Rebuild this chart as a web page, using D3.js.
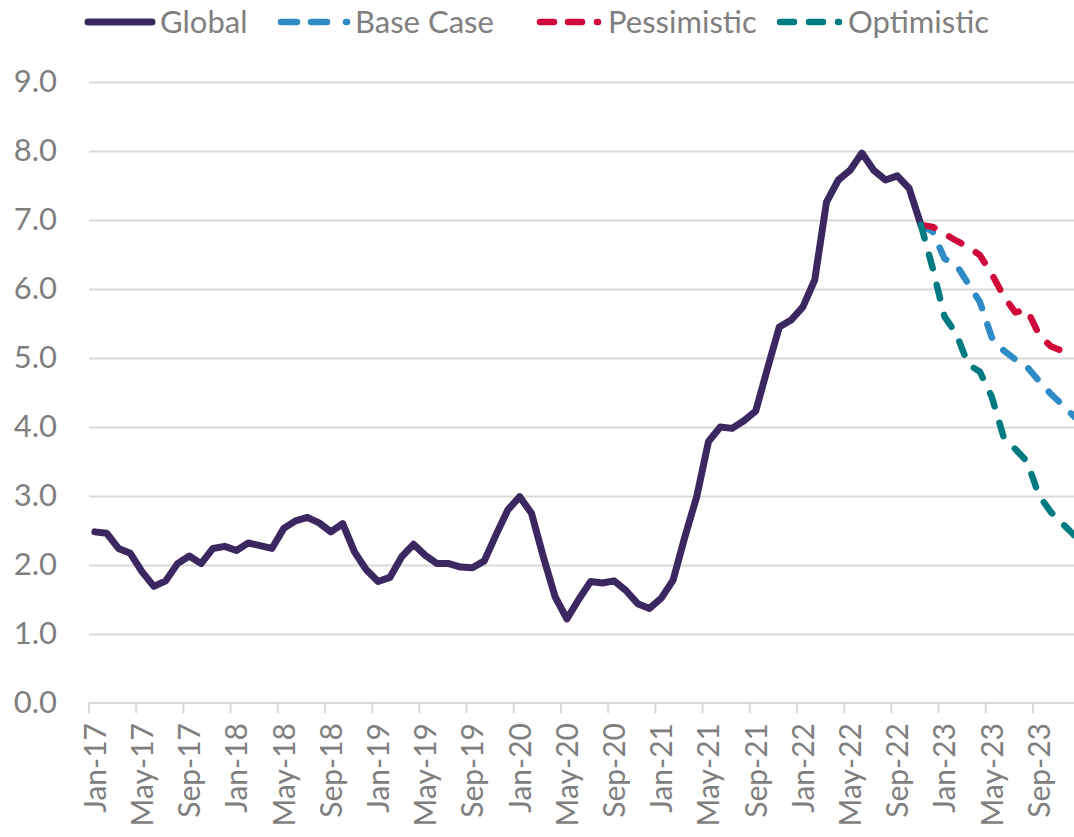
<!DOCTYPE html>
<html>
<head>
<meta charset="utf-8">
<script src="https://cdn.jsdelivr.net/npm/d3@7"></script>
<style>
  html, body { margin: 0; padding: 0; background: #fff; }
  svg { display: block; }
  text { font-family: Lato, "Open Sans", sans-serif; fill: #7f7f7f; }
</style>
</head>
<body>
<svg id="chart" width="1074" height="837"></svg>
<script>
(function () {
// ---- Data ----
const startMonth = new Date(2017, 0, 1);
const monthCount = 84; // Jan-17 .. Dec-23
const categories = d3.timeMonth.range(startMonth, d3.timeMonth.offset(startMonth, monthCount))
  .map(d3.timeFormat("%b-%y"));

const globalValues = [
  2.48, 2.46, 2.24, 2.17, 1.90, 1.69, 1.77, 2.02, 2.13, 2.02, 2.24, 2.27,
  2.21, 2.32, 2.28, 2.24, 2.53, 2.64, 2.69, 2.61, 2.48, 2.60, 2.19, 1.93,
  1.76, 1.82, 2.12, 2.30, 2.14, 2.02, 2.02, 1.97, 1.96, 2.06, 2.44, 2.80,
  2.99, 2.75, 2.12, 1.54, 1.22, 1.50, 1.76, 1.74, 1.77, 1.63, 1.44, 1.37,
  1.52, 1.78, 2.41, 2.99, 3.79, 4.00, 3.98, 4.09, 4.23, 4.85, 5.45, 5.55,
  5.74, 6.13, 7.26, 7.58, 7.72, 7.97, 7.72, 7.58, 7.64, 7.46, 6.93
];
// scenario series start at Nov-22
const scenarioStart = "Nov-22";
const baseCase    = [6.93, 6.83, 6.44, 6.35, 6.08, 5.81, 5.30, 5.11, 4.98, 4.87, 4.67, 4.48, 4.32, 4.15];
const pessimistic = [6.93, 6.90, 6.80, 6.70, 6.61, 6.49, 6.22, 5.90, 5.66, 5.70, 5.34, 5.17, 5.10, 5.02];
const optimistic  = [6.93, 6.30, 5.60, 5.35, 4.91, 4.80, 4.44, 3.86, 3.68, 3.50, 3.01, 2.77, 2.60, 2.43];

const yTicks = [0, 1, 2, 3, 4, 5, 6, 7, 8, 9];
const seriesNames = ["Global", "Base Case", "Pessimistic", "Optimistic"];
const seriesColors = ["#3c2861", "#2e8bc6", "#d1083a", "#007b82"];

// ---- Layout ----
const svg = d3.select("#chart");
const plotLeft = 89, bandW = 11.8, plotTop = 82, plotBottom = 703;
const plotRight = plotLeft + bandW * monthCount;

const x = d3.scaleBand().domain(categories).range([plotLeft, plotRight]).padding(0);
const y = d3.scaleLinear().domain([0, 9]).range([plotBottom, plotTop]);

// gridlines + y labels
const yAxis = d3.axisLeft(y).tickValues(yTicks).tickFormat(d3.format(".1f"))
  .tickSize(-(plotRight - plotLeft)).tickPadding(32);
const gy = svg.append("g").attr("transform", `translate(${plotLeft},0)`).call(yAxis);
gy.select(".domain").remove();
gy.selectAll(".tick line").attr("stroke", "#d9d9d9").attr("stroke-width", 2)
  .filter(d => d === 0).remove();
gy.selectAll(".tick text").attr("font-size", 31).attr("fill", "#7f7f7f")
  .attr("font-family", "Lato").attr("x", -32);

// x axis line and boundary ticks
const labelCats = categories.filter((c, i) => i % 4 === 0);
const gxLine = svg.append("g");
gxLine.append("line").attr("x1", plotLeft).attr("x2", plotRight).attr("y1", plotBottom).attr("y2", plotBottom)
  .attr("stroke", "#d9d9d9").attr("stroke-width", 2);
gxLine.selectAll("line.tk").data(labelCats).join("line").attr("class", "tk")
  .attr("x1", d => x(d)).attr("x2", d => x(d)).attr("y1", plotBottom).attr("y2", plotBottom + 10)
  .attr("stroke", "#d9d9d9").attr("stroke-width", 2);

// x labels through axis
const xAxis = d3.axisBottom(x).tickValues(labelCats).tickSize(0).tickPadding(0);
const gx = svg.append("g").attr("transform", `translate(0,${plotBottom})`).call(xAxis);
gx.select(".domain").remove();
gx.selectAll(".tick text")
  .attr("font-size", 30).attr("font-family", "Lato").attr("fill", "#7f7f7f")
  .attr("transform", "rotate(-90)")
  .attr("text-anchor", "end")
  .attr("x", -20).attr("y", 0).attr("dy", "0.36em");

// ---- Lines ----
const cx = c => x(c) + x.bandwidth() / 2;
const line = d3.line().x(d => cx(d.c)).y(d => y(d.v));
const s0 = categories.indexOf(scenarioStart);
const toPts = (arr, off) => arr.map((v, i) => ({ c: categories[i + off], v }));

const series = [
  { pts: toPts(globalValues, 0), color: seriesColors[0], dash: null, w: 7 },
  { pts: toPts(baseCase, s0), color: seriesColors[1], dash: "14,17", w: 6.5 },
  { pts: toPts(pessimistic, s0), color: seriesColors[2], dash: "14,17", w: 6.5 },
  { pts: toPts(optimistic, s0), color: seriesColors[3], dash: "14,17", w: 6.5 }
];
svg.append("g").selectAll("path").data(series).join("path")
  .attr("d", d => line(d.pts))
  .attr("fill", "none")
  .attr("stroke", d => d.color)
  .attr("stroke-width", d => d.w)
  .attr("stroke-linecap", "round")
  .attr("stroke-linejoin", "round")
  .attr("stroke-dasharray", d => d.dash);

// ---- Legend ----
const legendItems = [
  { name: seriesNames[0], color: seriesColors[0], x1: 88, x2: 152, tx: 160, dash: null, w: 7 },
  { name: seriesNames[1], color: seriesColors[1], x1: 281, x2: 348, tx: 355, dash: "16,14,16,19,1,100", w: 6.5 },
  { name: seriesNames[2], color: seriesColors[2], x1: 540, x2: 599, tx: 608, dash: "14,14,14,15,1,100", w: 6.5 },
  { name: seriesNames[3], color: seriesColors[3], x1: 780, x2: 841, tx: 848, dash: "14,15,14,15,1,100", w: 6.5 }
];
const lg = svg.append("g").selectAll("g").data(legendItems).join("g");
lg.append("line").attr("x1", d => d.x1).attr("x2", d => d.x2).attr("y1", 22).attr("y2", 22)
  .attr("stroke", d => d.color).attr("stroke-width", d => d.w)
  .attr("stroke-linecap", "round").attr("stroke-dasharray", d => d.dash);
lg.append("text").attr("x", d => d.tx).attr("y", 22).attr("dy", "0.36em")
  .attr("font-size", 31).attr("fill", "#7f7f7f").text(d => d.name);
})();
</script>
</body>
</html>
